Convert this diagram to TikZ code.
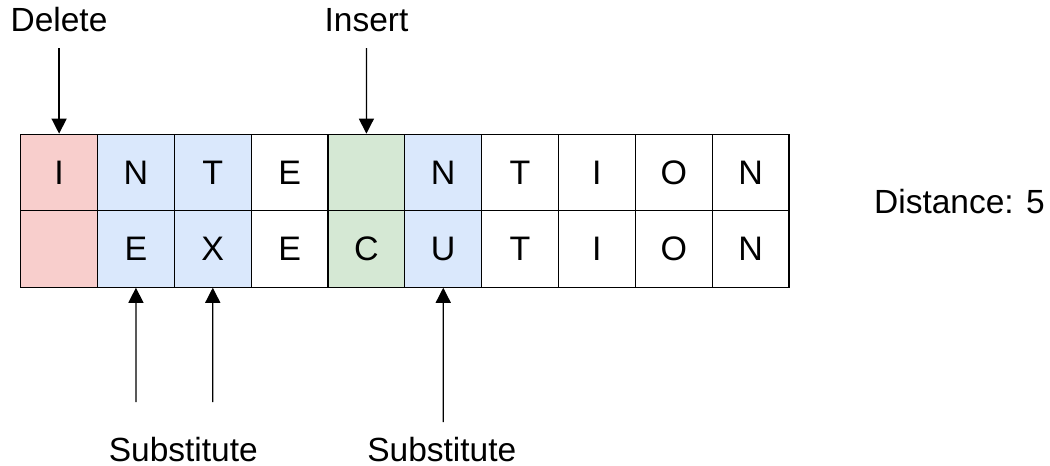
\documentclass[tikz,border=0pt]{standalone}
\usepackage{fontspec}
\setmainfont{Liberation Sans}
\usetikzlibrary{arrows.meta}
\definecolor{delfill}{HTML}{F8CECC}
\definecolor{subfill}{HTML}{DAE8FC}
\definecolor{insfill}{HTML}{D5E8D4}
\tikzset{
  cell/.style={draw=black, line width=1.2pt, minimum width=76.83pt, minimum height=76.5pt, inner sep=0pt, font=\fontsize{34}{40}\selectfont},
  lbl/.style={inner sep=0pt, anchor=base, font=\fontsize{33.5}{40}\selectfont},
  arr/.style={line width=1.3pt, -{Triangle[length=15pt,width=15pt]}}
}
\begin{document}
\begin{tikzpicture}[x=1pt,y=-1pt]
\useasboundingbox (0,0) rectangle (1050,466);
% top row
\foreach \i/\t/\f in {0/I/delfill,1/N/subfill,2/T/subfill,3/E/white,4/{}/insfill,5/N/subfill,6/T/white,7/I/white,8/O/white,9/N/white}{
  \node[cell, fill=\f] (t\i) at (59.1+\i*76.83,172.5) {\t};
}
% bottom row
\foreach \i/\t/\f in {0/{}/delfill,1/E/subfill,2/X/subfill,3/E/white,4/C/insfill,5/U/subfill,6/T/white,7/I/white,8/O/white,9/N/white}{
  \node[cell, fill=\f] (b\i) at (59.1+\i*76.83,248.9) {\t};
}
% labels
\node[lbl] (del) at (59,31.7) {Delete};
\node[lbl] (ins) at (366.5,31.7) {Insert};
\node[lbl] (sub1) at (183.3,461.2) {Substitute};
\node[lbl] (sub2) at (441.8,461.2) {Substitute};
\node[lbl] (dist) at (959.5,213) {Distance: 5};
% arrow tails
\coordinate (da) at (59.1,48);
\coordinate (ia) at (366.4,48);
\coordinate (s1) at (135.9,402);
\coordinate (s2) at (212.8,402);
\coordinate (s3) at (443.3,422);
\draw[arr] (da) -- (t0.north);
\draw[arr] (ia) -- (t4.north);
\draw[arr] (s1) -- (b1.south);
\draw[arr] (s2) -- (b2.south);
\draw[arr] (s3) -- (b5.south);
\end{tikzpicture}
\end{document}
